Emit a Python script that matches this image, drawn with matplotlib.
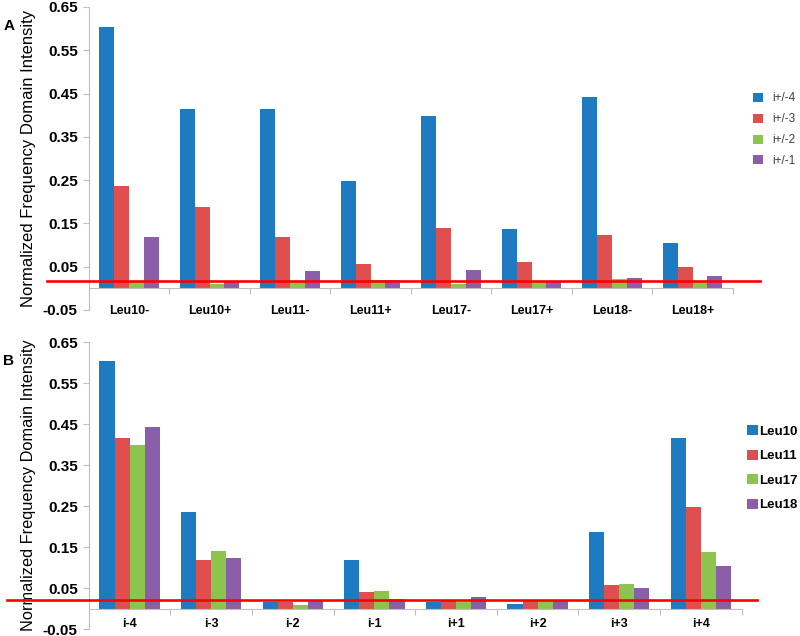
import matplotlib
matplotlib.use("Agg")
import matplotlib.pyplot as plt
import numpy as np

plt.rcParams['font.family'] = ['Liberation Sans', 'DejaVu Sans']

# ---------------- Data ----------------
cats_a = ["Leu10-", "Leu10+", "Leu11-", "Leu11+", "Leu17-", "Leu17+", "Leu18-", "Leu18+"]
series_a = ["i+/-4", "i+/-3", "i+/-2", "i+/-1"]
a_i4 = [0.603, 0.415, 0.415, 0.247, 0.398, 0.138, 0.443, 0.104]
a_i3 = [0.236, 0.187, 0.118, 0.057, 0.140, 0.060, 0.124, 0.050]
a_i2 = [0.015, 0.011, 0.015, 0.020, 0.009, 0.018, 0.022, 0.018]
a_i1 = [0.118, 0.015, 0.040, 0.020, 0.042, 0.015, 0.024, 0.029]

cats_b = ["i-4", "i-3", "i-2", "i-1", "i+1", "i+2", "i+3", "i+4"]
series_b = ["Leu10", "Leu11", "Leu17", "Leu18"]
b_leu10 = [0.603, 0.236, 0.015, 0.118, 0.015, 0.011, 0.187, 0.415]
b_leu11 = [0.415, 0.118, 0.015, 0.040, 0.020, 0.020, 0.057, 0.247]
b_leu17 = [0.398, 0.140, 0.009, 0.042, 0.015, 0.018, 0.060, 0.138]
b_leu18 = [0.443, 0.124, 0.022, 0.024, 0.029, 0.020, 0.050, 0.104]

threshold_a = 0.016
threshold_b = 0.020

yticks = [-0.05, 0.05, 0.15, 0.25, 0.35, 0.45, 0.55, 0.65]
colors = ["#1f7bc1", "#e04f4f", "#8dc44e", "#8a5ea8"]

fig = plt.figure(figsize=(8.0, 6.36), dpi=100)


def draw_panel(rect, cats, series_names, values, thr, thr_span, panel_label,
               xpad, ylabel_size, legend_kw):
    ax = fig.add_axes(rect)
    n = len(cats)
    x = np.arange(n)
    w = 0.185
    for k, (name, vals) in enumerate(zip(series_names, values)):
        ax.bar(x + (k - 1.5) * w, vals, width=w, color=colors[k], label=name,
               zorder=2, linewidth=0)
    ax.set_xlim(-0.5, n - 0.5)
    ax.set_ylim(-0.05, 0.65)
    ax.set_yticks(yticks)
    ax.set_yticklabels([f"{t:.2f}" for t in yticks], fontsize=11, fontweight='bold')
    for s in ["top", "right"]:
        ax.spines[s].set_visible(False)
    ax.spines["left"].set_color("#bfbfbf")
    ax.spines["bottom"].set_position(("data", 0))
    ax.spines["bottom"].set_color("#bfbfbf")
    ax.tick_params(axis='y', length=4, color="#bfbfbf", width=0.8, pad=4)
    ax.set_xticks(x)
    ax.set_xticklabels(cats, fontsize=9, fontweight='bold')
    ax.tick_params(axis='x', length=0, pad=xpad)
    ax.set_xticks(np.arange(n + 1) - 0.5, minor=True)
    ax.tick_params(axis='x', which='minor', length=4, color="#bfbfbf", width=0.8)
    ax.set_ylabel("Normalized Frequency Domain Intensity", fontsize=ylabel_size,
                  labelpad=5)
    # red threshold line extending beyond axes
    ax.plot(thr_span, [thr, thr], color="#ff0000", lw=1.9, zorder=5,
            transform=ax.get_yaxis_transform(), clip_on=False)
    fig.text(0.004, rect[1] + rect[3] - 0.03, panel_label, fontsize=11,
             fontweight='bold', ha='left', va='center')
    ax.legend(frameon=False, handlelength=0.8, handleheight=0.8, **legend_kw)
    return ax


ax_a = draw_panel([0.111, 0.5126, 0.805, 0.4764], cats_a, series_a,
                  [a_i4, a_i3, a_i2, a_i1], threshold_a, [-0.065, 1.043], "A",
                  12, 12,
                  dict(loc='center left', bbox_to_anchor=(1.015, 0.595),
                       prop={'size': 8.5}, labelspacing=0.75,
                       labelcolor="#404040", handletextpad=0.8))

ax_b = draw_panel([0.111, 0.011, 0.816, 0.451], cats_b, series_b,
                  [b_leu10, b_leu11, b_leu17, b_leu18], threshold_b, [-0.126, 1.024], "B",
                  7, 11.8,
                  dict(loc='center left', bbox_to_anchor=(0.99, 0.56),
                       prop={'size': 9.5, 'weight': 'bold'}, labelspacing=0.9,
                       handletextpad=0.15))

fig.savefig("out.png", dpi=100)
